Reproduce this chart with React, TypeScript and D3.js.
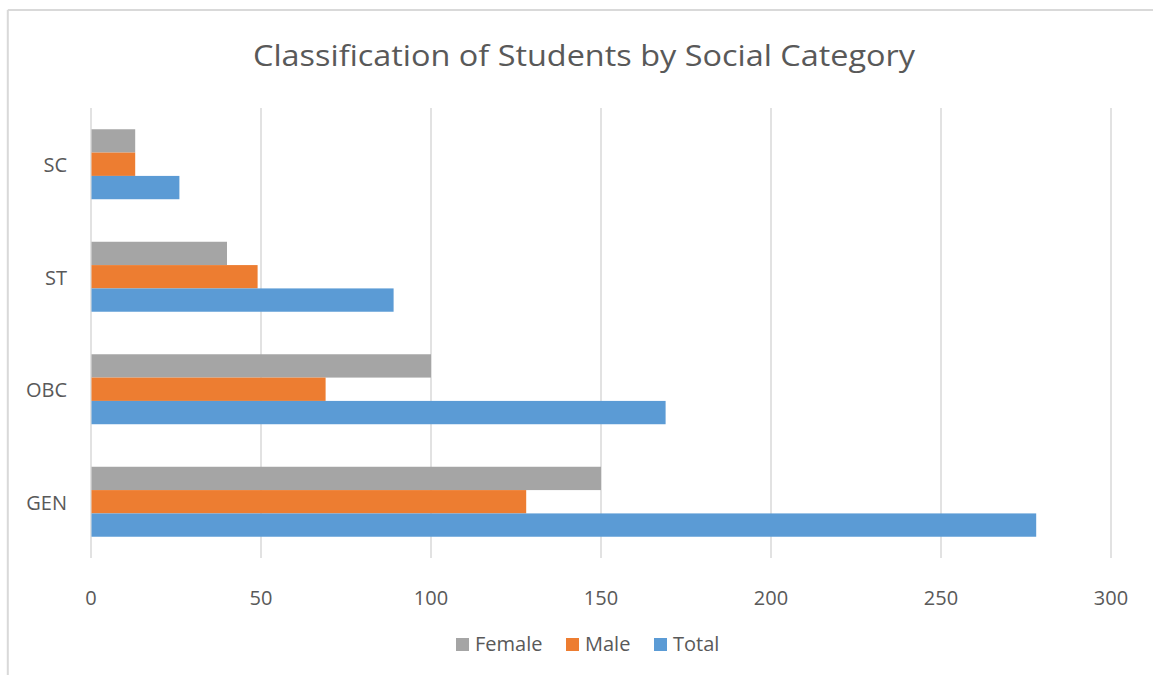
import React from "react";
import * as d3 from "d3";

const categories = ["SC", "ST", "OBC", "GEN"];
const seriesNames = ["Female", "Male", "Total"];
const female = [13, 40, 100, 150];
const male = [13, 49, 69, 128];
const total = [26, 89, 169, 278];
const xTicks = [0, 50, 100, 150, 200, 250, 300];
const colors = ["#A5A5A5", "#ED7D31", "#5B9BD5"];

const W = 1153;
const H = 675;
const FONT = "'Open Sans', 'Noto Sans', sans-serif";
const TEXT = "#595959";

export default function App() {
  const seriesValues = [female, male, total];
  const x = d3.scaleLinear().domain([0, 300]).range([91, 1111]);
  const y = d3
    .scaleBand<string>()
    .domain(categories)
    .range([108, 558])
    .paddingInner(0.378)
    .paddingOuter(0.189);
  const inner = d3
    .scaleBand<string>()
    .domain(seriesNames)
    .range([0, y.bandwidth()]);

  const legendItems = [
    { name: "Female", sx: 456, tx: 475 },
    { name: "Male", sx: 566, tx: 585 },
    { name: "Total", sx: 654, tx: 673 },
  ];

  return (
    <svg
      width={W}
      height={H}
      style={{ position: "absolute", left: 0, top: 0, background: "#fff" }}
    >
      <rect x={0} y={0} width={W} height={H} fill="#fff" />
      {/* chart border */}
      <line x1={7.8} y1={10} x2={W + 5} y2={10} stroke="#d9d9d9" strokeWidth={2} />
      <line x1={7.8} y1={10} x2={7.8} y2={H + 5} stroke="#d9d9d9" strokeWidth={2} />

      <text
        x={584}
        y={66}
        textAnchor="middle"
        fontFamily={FONT}
        fontSize={30}
        fill={TEXT}
        textLength={662}
        lengthAdjust="spacingAndGlyphs"
      >
        Classification of Students by Social Category
      </text>

      {/* gridlines */}
      {xTicks.map((t) => (
        <line
          key={t}
          x1={x(t)}
          x2={x(t)}
          y1={108}
          y2={558}
          stroke="#d9d9d9"
          strokeWidth={1.5}
        />
      ))}

      {/* bars */}
      {categories.map((c, ci) => (
        <g key={c} transform={`translate(0,${y(c)})`}>
          {seriesNames.map((s, si) => (
            <rect
              key={s}
              x={x(0) + 0.5}
              y={inner(s)}
              width={x(seriesValues[si][ci]) - x(0) - 0.5}
              height={inner.bandwidth()}
              fill={colors[si]}
            />
          ))}
        </g>
      ))}

      {/* category labels */}
      {categories.map((c) => (
        <text
          key={c}
          x={67}
          y={(y(c) as number) + y.bandwidth() / 2 + 8}
          textAnchor="end"
          fontFamily={FONT}
          fontSize={20}
          fill={TEXT}
        >
          {c}
        </text>
      ))}

      {/* x tick labels */}
      {xTicks.map((t) => (
        <text
          key={t}
          x={x(t)}
          y={605}
          textAnchor="middle"
          fontFamily={FONT}
          fontSize={20}
          fill={TEXT}
        >
          {t}
        </text>
      ))}

      {/* legend */}
      {legendItems.map((l, i) => (
        <g key={l.name}>
          <rect x={l.sx} y={638} width={13} height={13} fill={colors[i]} />
          <text
            x={l.tx}
            y={651}
            fontFamily={FONT}
            fontSize={20}
            fill={TEXT}
          >
            {l.name}
          </text>
        </g>
      ))}
    </svg>
  );
}
